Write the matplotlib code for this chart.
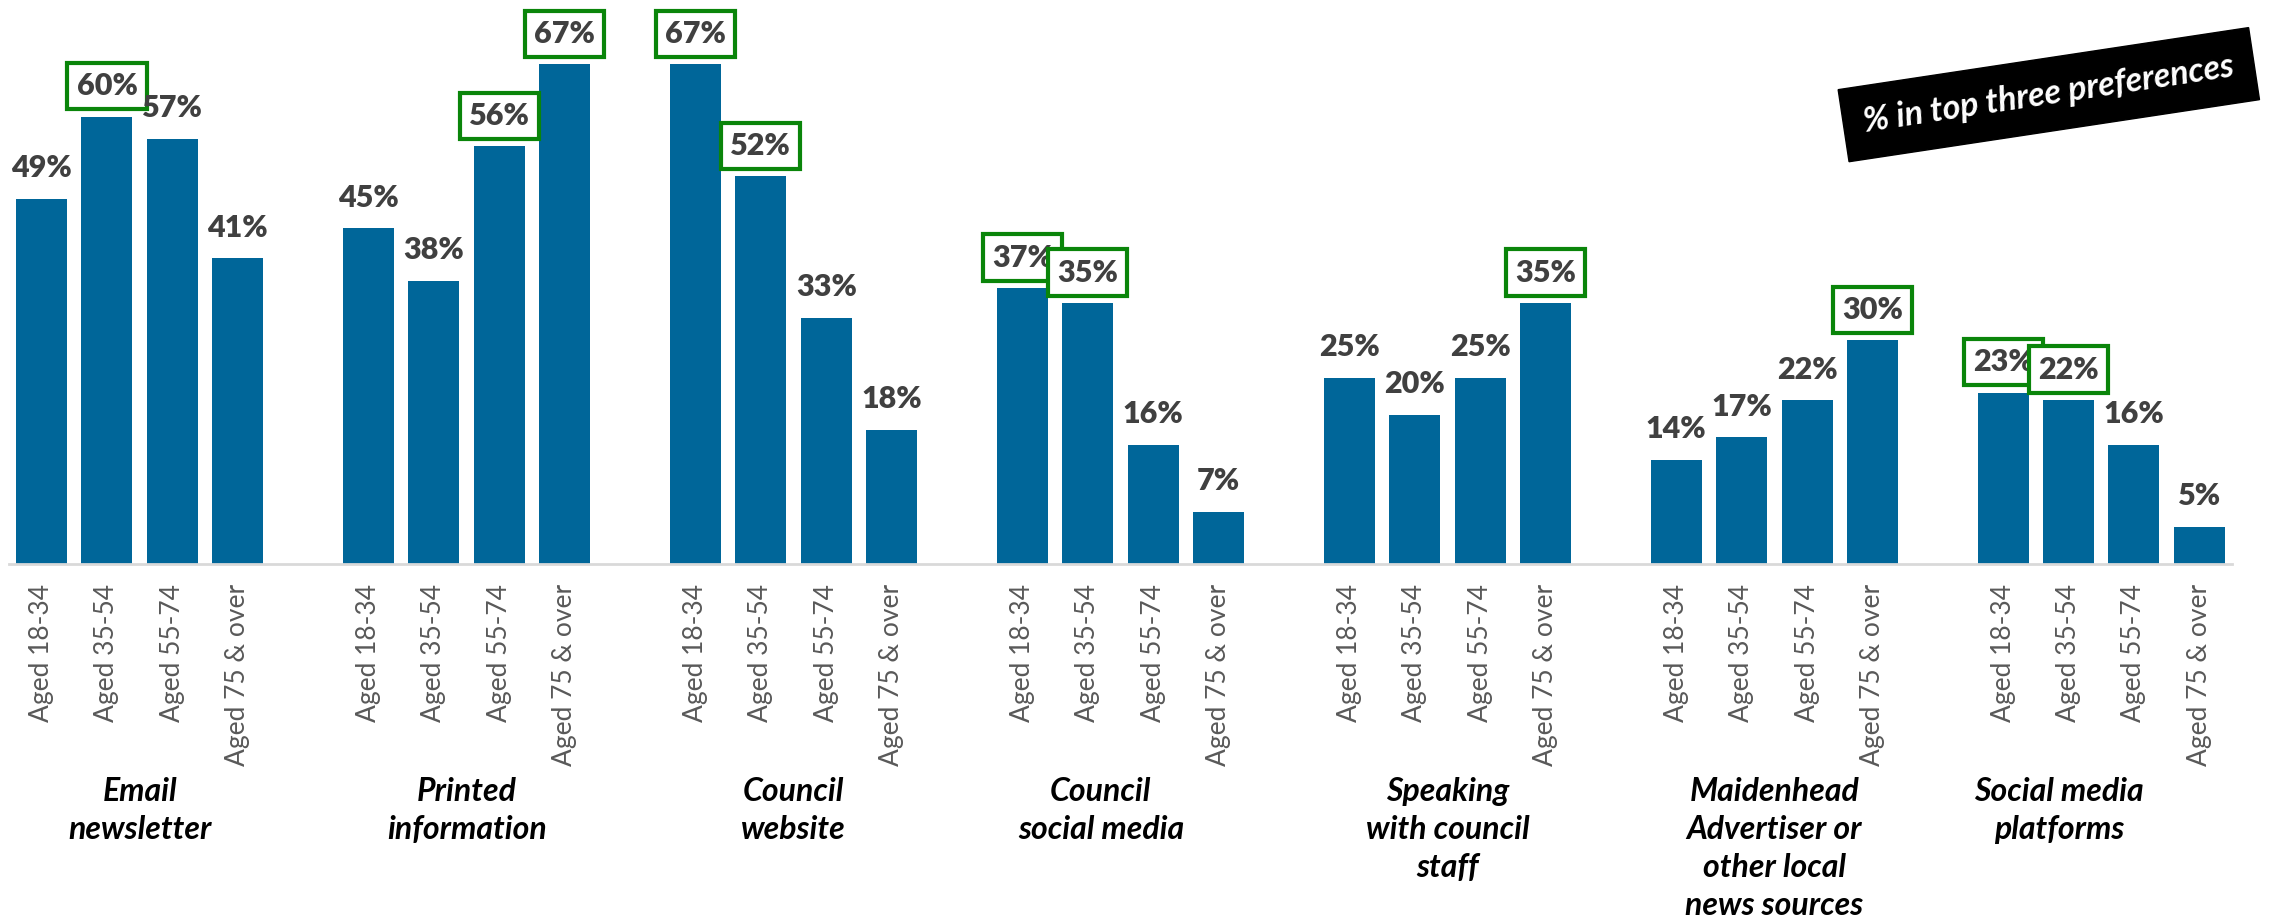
import matplotlib.pyplot as plt
import numpy as np

# Data
categories = ["Email\nnewsletter", "Printed\ninformation", "Council\nwebsite",
              "Council\nsocial media", "Speaking\nwith council\nstaff",
              "Maidenhead\nAdvertiser or\nother local\nnews sources",
              "Social media\nplatforms"]
age_groups = ["Aged 18-34", "Aged 35-54", "Aged 55-74", "Aged 75 & over"]
values = [
    [49, 60, 57, 41],
    [45, 38, 56, 67],
    [67, 52, 33, 18],
    [37, 35, 16, 7],
    [25, 20, 25, 35],
    [14, 17, 22, 30],
    [23, 22, 16, 5],
]
# which labels get a green box
highlight = [
    [0, 1, 0, 0],
    [0, 0, 1, 1],
    [1, 1, 0, 0],
    [1, 1, 0, 0],
    [0, 0, 0, 1],
    [0, 0, 0, 1],
    [1, 1, 0, 0],
]
note = "% in top three preferences"

BAR = "#006699"
LABEL = "#404040"
GREEN = "#0A850A"

fig = plt.figure(figsize=(22.79, 9.19), dpi=100)
ax = fig.add_axes([0.0039, 0.386, 0.9755, 0.609])

xs, tick_labels = [], []
for g, vals in enumerate(values):
    for i, v in enumerate(vals):
        x = g * 5 + i
        xs.append(x)
        tick_labels.append(age_groups[i])
        ax.bar(x, v, width=0.78, color=BAR, zorder=2)
        box = None
        if highlight[g][i]:
            box = dict(boxstyle="square,pad=0.3", fc="white", ec=GREEN, lw=3)
        ax.annotate(f"{v}%", (x, v), xytext=(0, 22), textcoords="offset points",
                    ha="center", va="center", fontsize=22, fontweight="heavy",
                    color=LABEL, family="Lato", bbox=box)

ax.set_xlim(-0.5, 33.5)
ax.set_ylim(0, 75)
ax.set_xticks(xs)
ax.set_xticklabels(tick_labels, rotation=90, fontsize=19, color="#595959",
                   family="Lato", va="top")
ax.tick_params(axis="x", length=0, pad=14)
ax.set_yticks([])
for s in ["top", "right", "left"]:
    ax.spines[s].set_visible(False)
ax.spines["bottom"].set_color("#D9D9D9")
ax.spines["bottom"].set_linewidth(2)

# group labels under the tick labels
shift = [0, 0, 0, -0.3, 0, 0, -0.65]
for g, cat in enumerate(categories):
    ax.text(g * 5 + 1.5 + shift[g], -0.38, cat, transform=ax.get_xaxis_transform(),
            ha="center", va="top", fontsize=23, fontweight="bold", style="italic",
            family="Lato", linespacing=1.38)

fig.text(0.899, 0.897, note, rotation=8.6, ha="center", va="center", color="white",
         fontsize=24.5, fontweight="bold", style="italic", family="Lato",
         bbox=dict(boxstyle="square,pad=0.6", fc="black", ec="black"))

fig.savefig("out.png", dpi=100)
